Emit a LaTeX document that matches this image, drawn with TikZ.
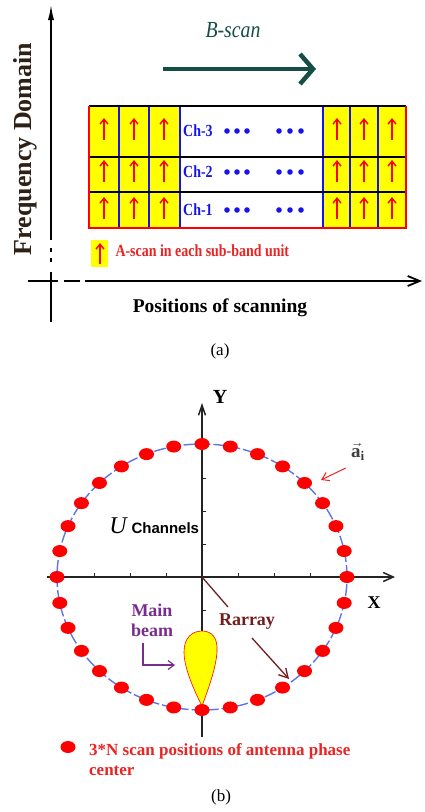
\documentclass[tikz,border=0pt]{standalone}
\usepackage{fontspec}
\setmainfont{Liberation Serif}
\newfontfamily\sansbold{Liberation Sans}
\usetikzlibrary{arrows.meta, positioning, calc}
\definecolor{scanred}{RGB}{255,0,0}
\definecolor{textred}{RGB}{235,35,35}
\definecolor{cellyellow}{RGB}{255,255,0}
\definecolor{chblue}{RGB}{20,20,235}
\definecolor{bscanteal}{RGB}{20,78,68}
\definecolor{ringblue}{RGB}{95,115,235}
\definecolor{beampurple}{RGB}{120,45,140}
\definecolor{rarraybrown}{RGB}{115,30,30}
\definecolor{axisgray}{RGB}{35,35,35}
\newcommand{\fsz}[1]{\fontsize{#1}{#1}\selectfont}
\newcommand{\narrow}[1]{\scalebox{0.82}[1]{#1}}

\begin{document}
\begin{tikzpicture}[x=1pt, y=-1pt,
  cellarrow/.style={scanred, line width=1.4pt, -{Straight Barb[length=5pt,width=8pt]}},
  chlabel/.style={font=\fsz{17}\bfseries, chblue, inner sep=1pt},
  axisline/.style={line width=1.8pt},
  ringaxis/.style={axisgray, line width=1.5pt},
  tick/.style={axisgray, line width=0.6pt}]
  \useasboundingbox (0,0) rectangle (424,812);
  % ---------- (a) ----------
  % Frequency axis
  \draw[axisline, -{Latex[length=16pt,width=6pt]}] (51,240) -- (51,4);
  \draw[axisline, dash pattern=on 4pt off 6pt] (51,248) -- (51,265);
  \draw[axisline] (51,272) -- (51,322);
  % Scanning axis
  \draw[axisline] (28,281) -- (58,281);
  \draw[axisline] (64,281) -- (80,281);
  \draw[axisline, -{Straight Barb[length=12pt,width=10pt]}] (85,281) -- (422,281);
  \node[rotate=90, font=\fsz{26}\bfseries, text={rgb,255:red,45;green,32;blue,22}] (freq) at (25,149) {Frequency Domain};
  \node[font=\fsz{19.5}\bfseries] (positions) at (220,308) {Positions of scanning};
  \node[font=\fsz{17}] (alab) at (220,351) {(a)};
  % B-scan direction
  \node[font=\fsz{23}\itshape, bscanteal] (bscan) at (233,30) {\scalebox{0.86}[1]{B-scan}};
  \coordinate (bstart) at (163,69);
  \coordinate (bend) at (316,69);
  \draw[bscanteal, line width=4.5pt, -{Straight Barb[length=13pt,width=30pt]}] (bstart) -- (bend);
  % Sub-band cells
  \fill[cellyellow] (89,106) rectangle (180,228);
  \fill[cellyellow] (323,106) rectangle (406,228);
  \foreach \x in {119,149,180,323,350,378}
    \draw[chblue, line width=1.5pt] (\x,106) -- (\x,228);
  \foreach \y in {106,157,192}
    \draw[line width=1.8pt] (89,\y) -- (406,\y);
  \draw[scanred, line width=1.5pt] (89,106) -- (89,228) -- (406,228) -- (406,106);
  \foreach \cx in {104,134,164,337,364,392}
    \foreach \cy in {129,171,208}
      \draw[cellarrow] (\cx,\cy+11) -- (\cx,\cy-11);
  % Channels
  \foreach \y/\n in {131/3,172/2,210/1} {
    \node[chlabel, anchor=west] (ch\n) at (182,\y) {\narrow{Ch-\n}};
    \foreach \x in {227,237,247,279,290,301}
      \fill[chblue] (\x,\y) circle (2.8pt);
  }
  % Legend
  \fill[cellyellow] (91,240) rectangle (108,267);
  \draw[cellarrow] (100,264) -- (100,243);
  \node[font=\fsz{17}\bfseries, textred, anchor=west] (alegend) at (112,251) {\narrow{A-scan in each sub-band unit}};
  % ---------- (b) ----------
  \coordinate (O) at (202,577);
  \draw[ringblue, line width=1.4pt, dash pattern=on 12pt off 3pt] (O) ellipse [x radius=145pt, y radius=133pt];
  % Axes
  \draw[ringaxis, -{Straight Barb[length=10pt,width=9pt]}] (47,577) -- (395,577);
  \draw[ringaxis, -{Straight Barb[length=10pt,width=7pt]}] (202,737) -- (202,403);
  \foreach \k in {-3,-2,-1,1,2,3}
    \draw[tick] ({202+36*\k},577) -- ({202+36*\k},573);
  \foreach \k in {-4,-3,-2,-1,1,2,3,4}
    \draw[tick] (202,{577+33*\k}) -- (206,{577+33*\k});
  \node[font=\fsz{20}\bfseries] (ylab) at (220,397) {Y};
  \node[font=\fsz{18}\bfseries] (xlab) at (374,603) {X};
  % Main beam
  \draw[scanred, line width=0.6pt, fill=cellyellow] (202,706) .. controls (194,690) and (184,668) .. (184,652)
    .. controls (184,638) and (192,631) .. (202,631) .. controls (212,631) and (218,638) .. (217,652)
    .. controls (216,668) and (208,690) .. (202,706) -- cycle;
  % Scan positions
  \foreach \k in {0,...,31}
    \fill[scanred] ({202+145*cos(11.25*\k)},{577-133*sin(11.25*\k)}) ellipse [x radius=7.5pt, y radius=6pt];
  % Labels
  \node[font=\fsz{19}, text=black!75] (ai) at (358,452) {$\vec{\mathbf{a}}_{\mathbf{i}}$};
  \coordinate (aitip) at (321,480);
  \draw[textred, line width=1pt, -{Straight Barb[length=7pt,width=9pt]}] (ai.south west) ++(-2,4) -- (aitip);
  \node[font=\fsz{24}\itshape] (U) at (118,526) {U};
  \node[font=\sansbold\fsz{15}\bfseries, anchor=west] (chan) at (128,528) {Channels};
  \node[font=\fontsize{18}{20}\selectfont\bfseries, beampurple, align=center] (mainbeam) at (152,620) {Main\\beam};
  \coordinate (mbstart) at (143,643);
  \coordinate (mbend) at (175,665);
  \draw[beampurple, line width=1.2pt, -{Straight Barb[length=6pt,width=9pt]}] (mbstart) |- (mbend);
  \node[font=\fsz{18}\bfseries, rarraybrown] (rarray) at (247,622) {Rarray};
  \coordinate (rend) at (228,607);
  \draw[rarraybrown, line width=1.3pt] (O) -- (rend);
  \coordinate (rtail) at (252,638);
  \coordinate (rtip) at (289,679);
  \draw[rarraybrown, line width=1.3pt, -{Straight Barb[length=9pt,width=10pt]}] (rtail) -- (rtip);
  % Legend
  \fill[scanred] (68,747) ellipse [x radius=7.5pt, y radius=6pt];
  \node[font=\fontsize{17}{20}\selectfont\bfseries, textred, align=left, anchor=north west, inner sep=0pt] (blegend) at (89,743) {3*N scan positions of antenna phase\\center};
  \node[font=\fsz{17}] (blab) at (221,797) {(b)};
\end{tikzpicture}
\end{document}
